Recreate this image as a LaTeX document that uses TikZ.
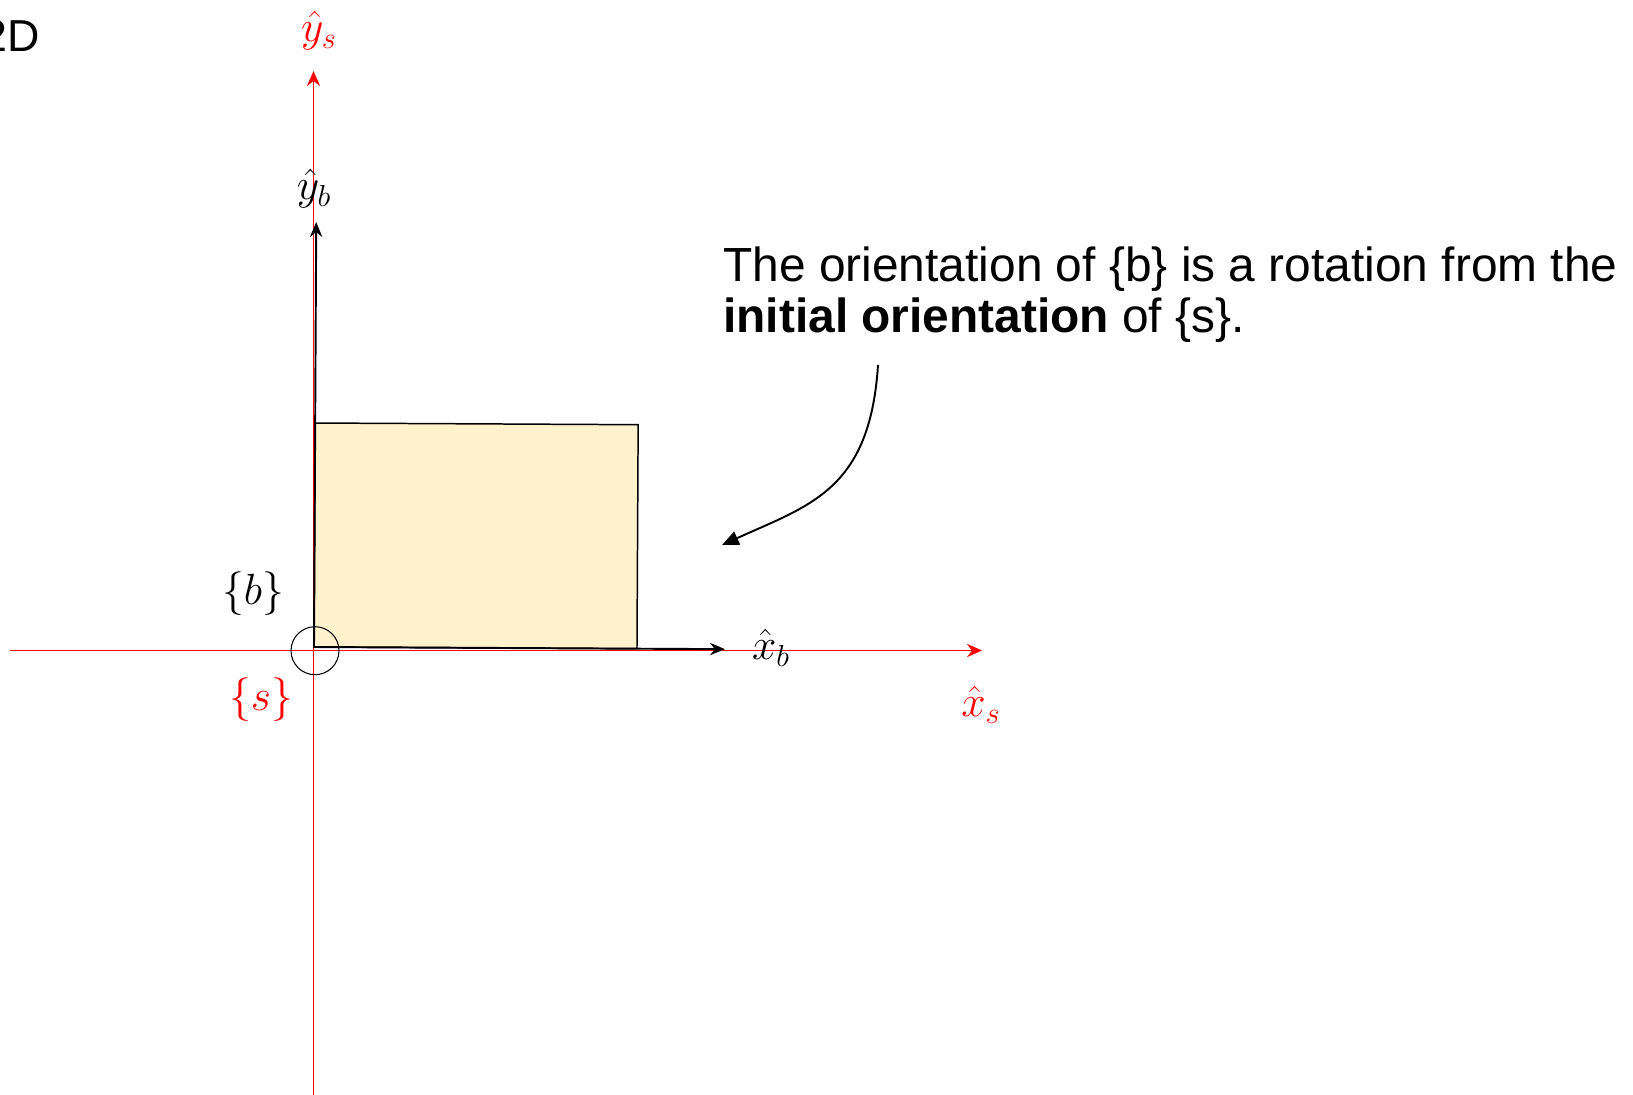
\documentclass[tikz,border=0pt]{standalone}
\usepackage{fontspec}
\usepackage{xcolor}
\usetikzlibrary{arrows.meta}
\newfontfamily\arial{Liberation Sans}
\definecolor{framered}{RGB}{255,0,0}
\definecolor{bodyfill}{RGB}{255,242,204}

\begin{document}
\begin{tikzpicture}[
    x=0.02cm, y=-0.02cm,
    axis/.style={draw=framered,line width=1.1pt,-{Stealth[length=8.5pt,width=7.5pt]}},
    bodyaxis/.style={draw=black,line width=1.1pt,-{Stealth[length=8.5pt,width=7pt]}},
    bodybox/.style={draw=black,fill=bodyfill,line width=0.85pt},
    lbl/.style={inner sep=0pt,font=\fontsize{26.5}{30}\selectfont},
    arrow/.style={-{Triangle[length=9.5pt,width=8pt]},line width=1.1pt}
  ]
  \useasboundingbox (0,0) rectangle (1633,1095);

  \node[anchor=base east,inner sep=0pt,font=\arial\fontsize{25.5}{30}\selectfont] (title) at (40,52) {2D};

  % space frame {s}
  \coordinate (origin) at (313.5,650.5);
  \coordinate (xsleft) at (10,650.5);
  \coordinate (xstip) at (982,650.5);
  \coordinate (ysbottom) at (313.5,1095);
  \coordinate (ystip) at (313.5,71);
  \draw[axis] (xsleft) -- (xstip);
  \draw[axis] (ysbottom) -- (ystip);

  % body frame {b}, turned a little
  \begin{scope}[shift={(314,647)},rotate=-0.3]
    \coordinate (borigin) at (0,0);
    \coordinate (xbtip) at (411,0);
    \coordinate (ybtip) at (0,-425);
    \draw[bodybox] (borigin) -- (323,0) -- (323,-224) -- (0,-224) -- cycle;
    \draw[bodyaxis] (borigin) -- (xbtip);
    \draw[bodyaxis] (borigin) -- (ybtip);
  \end{scope}
  \node[draw,circle,line width=0.6pt,minimum size=0.96cm,inner sep=0pt] (originmark) at (315,650.7) {};

  \node[lbl,text=framered] (yslabel) at (319,31) {$\hat{y}_s$};
  \node[lbl,text=framered] (xslabel) at (981,705) {$\hat{x}_s$};
  \node[lbl,text=framered] (slabel) at (261,700) {$\{s\}$};
  \node[lbl] (yblabel) at (314,189) {$\hat{y}_b$};
  \node[lbl] (xblabel) at (771,648) {$\hat{x}_b$};
  \node[lbl] (blabel) at (253,594) {$\{b\}$};

  \node[anchor=base west,inner sep=0pt,align=left,font=\arial\fontsize{27.25}{28.9}\selectfont] (note) at (723,332)
    {The orientation of \{b\} is a rotation from the\\\textbf{initial orientation} of \{s\}.};
  \coordinate (curvestart) at (878,365);
  \coordinate (curveend) at (722,545);
  \draw[arrow] (curvestart) .. controls (870,490) and (810,505) .. (curveend);
\end{tikzpicture}
\end{document}
